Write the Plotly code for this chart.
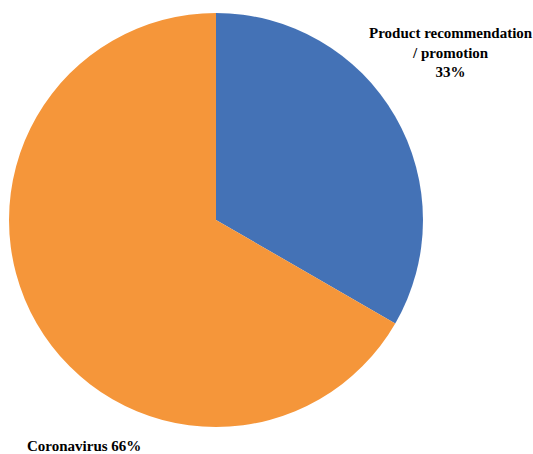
import plotly.graph_objects as go

labels = ["Product recommendation / promotion", "Coronavirus"]
values = [33, 66]
colors = ["#4472B6", "#F5963A"]

fig = go.Figure(go.Pie(
    labels=labels, values=values, sort=False, direction="clockwise", rotation=0,
    marker=dict(colors=colors, line=dict(width=0)),
    textinfo="none", hoverinfo="label+percent",
    domain=dict(x=[0.0169, 0.7936], y=[0.0595, 0.9714]),
    showlegend=False,
))

font = dict(family="Liberation Serif", size=15, color="black")
fig.add_annotation(x=451/533, y=1-52/454, xref="paper", yref="paper",
                   text="<b>Product recommendation<br>/ promotion<br>33%</b>",
                   showarrow=False, font=font, align="center", xanchor="center", yanchor="middle")
fig.add_annotation(x=84/533, y=1-446/454, xref="paper", yref="paper",
                   text="<b>Coronavirus 66%</b>",
                   showarrow=False, font=font, align="center", xanchor="center", yanchor="middle")

fig.update_layout(width=533, height=454, margin=dict(l=0, r=0, t=0, b=0),
                  paper_bgcolor="white", plot_bgcolor="white")
fig.write_html("out.html")
